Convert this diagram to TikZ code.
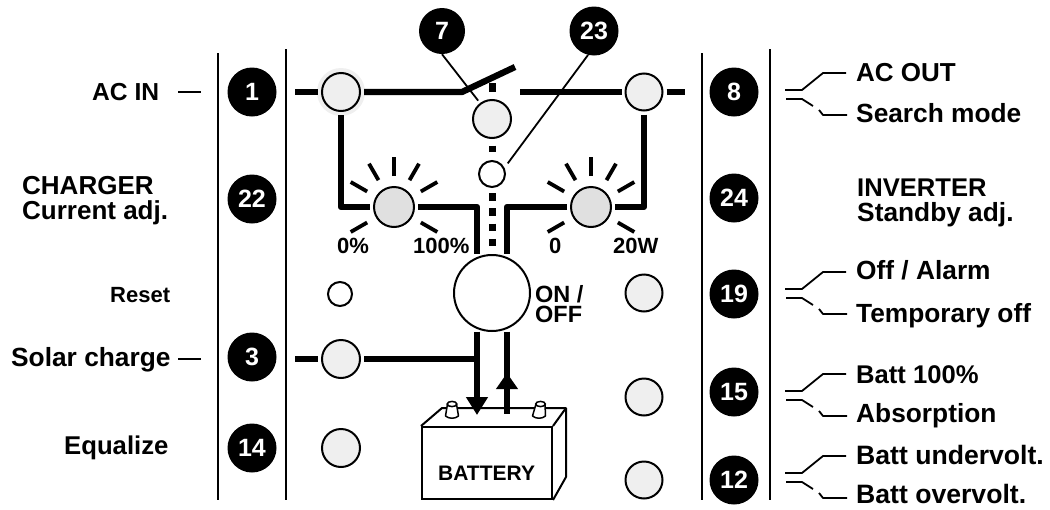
\documentclass[tikz,border=0pt]{standalone}
\usepackage{fontspec}
\setmainfont{Liberation Sans}
\usetikzlibrary{arrows.meta,calc}
\definecolor{lampgrey}{HTML}{EFEFEF}
\definecolor{dimgrey}{HTML}{E0E0E0}
\newcommand{\fsz}[1]{\fontsize{#1}{#1}\bfseries\selectfont}
\newcommand{\forkat}[1]{%
  \draw[thinline,line join=round] (785,#1) -- (802,#1) -- (823,#1-17) -- (846,#1-17);
  \draw[thinline] (786,#1+9) -- (802,#1+9) -- (813,#1+16);
  \draw[thinline,line join=round] (819,#1+20) -- (823,#1+25) -- (847,#1+25);
}
\tikzset{
  x=1pt,y=-1pt,
  wire/.style={line width=6.3pt,line join=round},
  thinline/.style={line width=1.8pt},
  divider/.style={line width=2pt},
  ray/.style={line width=3.8pt},
  dots/.style={line width=7pt},
  badge/.style={circle,fill=black,minimum size=#1,inner sep=0pt,text=white,font=\fsz{25}},
  badge/.default=49pt,
  lamp/.style={circle,draw=black,line width=2pt,fill=lampgrey,minimum size=38pt,inner sep=0pt,outer sep=4pt},
  dimmer/.style={lamp,fill=dimgrey,minimum size=40pt},
  blank/.style={lamp,fill=white,minimum size=#1},
  txt/.style={anchor=base west,inner sep=0pt,font=\fsz{26.3}},
  small/.style={txt,font=\fsz{22}}
}
\newcommand{\rays}[1]{%
  \foreach \a in {90,60,120,30,150,-30,210}
    \draw[ray] ($(#1)+(\a:31 and -31)$) -- ($(#1)+(\a:50 and -50)$);
}
\begin{document}
\begin{tikzpicture}
\useasboundingbox (0,0) rectangle (1050,509);

% dividers
\coordinate (d1a) at (218,53); \coordinate (d1b) at (218,500);
\coordinate (d2a) at (286,49); \coordinate (d2b) at (286,500);
\coordinate (d3a) at (702,53); \coordinate (d3b) at (702,500);
\coordinate (d4a) at (770,49); \coordinate (d4b) at (770,500);
\draw[divider] (d1a) -- (d1b);
\draw[divider] (d2a) -- (d2b);
\draw[divider] (d3a) -- (d3b);
\draw[divider] (d4a) -- (d4b);

% badges
\node[badge] (n1) at (252,92) {1};
\node[badge] (n22) at (252,199) {22};
\node[badge] (n3) at (252,357) {3};
\node[badge] (n14) at (252,448) {14};
\node[badge] (n8) at (734,92) {8};
\node[badge] (n24) at (734,198) {24};
\node[badge] (n19) at (734,294) {19};
\node[badge] (n15) at (734,392) {15};
\node[badge] (n12) at (734,480) {12};
\node[badge=46pt] (n7) at (442,31) {7};
\node[badge] (n23) at (594,31) {23};

% lamps
\fill[lampgrey] (341,92) circle (24);
\node[lamp] (acin) at (341,92) {};
\node[lamp] (cnt) at (492,119) {};
\node[lamp,minimum size=37pt] (acout) at (644,92) {};
\node[blank=26pt,outer sep=6pt] (led) at (492,174) {};
\node[dimmer] (dl) at (394,207) {};
\node[dimmer] (dr) at (591,207) {};
\node[blank=24pt] (reset) at (340,294) {};
\node[lamp] (solar) at (341,359) {};
\node[lamp] (equal) at (341,448) {};
\node[lamp,minimum size=37pt] (r19) at (644,293) {};
\node[lamp,minimum size=37pt] (r15) at (644,397) {};
\node[lamp,minimum size=37pt] (r12) at (644,480) {};

% rays
\rays{dl}
\rays{dr}

% named junctions
\coordinate (inl) at (295,92);
\coordinate (hinge) at (462,92);
\coordinate (swtip) at (515,67);
\coordinate (outa) at (520,92);
\coordinate (outb) at (685,92);
\coordinate (sll) at (295,359);
\coordinate (jl) at (341,207);
\coordinate (jr) at (644,207);
\coordinate (jm1) at (477,207);
\coordinate (jm2) at (507,207);
\coordinate (jsol) at (477,359);
\coordinate (tipdown) at (477,415);
\coordinate (uparrow) at (507,414);
\coordinate (uphead) at (507,389);
\coordinate (uptip) at (507,373);
\coordinate (dottop) at (492,83);

% wires
\draw[wire] (inl) -- (acin.west);
\draw[wire] (acin.east) -- (hinge) -- (swtip);
\draw[wire] (outa) -- (acout.west);
\draw[wire] (acout.east) -- (outb);
\draw[wire] (acin.south) -- (jl) -- (dl.west);
\draw[wire] (acout.south) -- (jr) -- (dr.east);

% ON/OFF
\node[lamp,fill=white,minimum size=76pt] (onoff) at (492,293) {};
\draw[wire] (dl.east) -- (jm1) -- (jm1 |- onoff.113);
\draw[wire] (dr.west) -- (jm2) -- (jm2 |- onoff.67);
\draw[wire] (sll) -- (solar.west);
\draw[wire] (solar.east) -- (jsol);

% dotted link
\draw[dots] (dottop) -- ([yshift=4.5pt]cnt.north);
\draw[dots,shorten <=3.5pt,shorten >=3.5pt] (cnt.south) -- (led.north);
\draw[dots,dash pattern=on 7.5pt off 7.8pt] (led.south) -- ([yshift=-4pt]onoff.north);

% battery
\node[draw=black,line width=2pt,minimum width=130pt,minimum height=72pt,inner sep=0pt] (batt) at (487,463) {};
\coordinate (bb1) at (442,408);
\coordinate (bb2) at (566,408);
\coordinate (bb3) at (566,477);
\draw[line width=2pt,line join=round] (batt.north west) -- (bb1) -- (bb2) -- (bb3) -- (batt.south east);
\draw[line width=2pt] (batt.north east) -- (bb2);
\foreach \tx/\sl in {452/0,539/1.5}{
  \draw[line width=1.5pt,fill=white,line join=round]
    (\tx-6.5,416) .. controls (\tx-3,419) and (\tx+3,419) .. (\tx+6.5,416)
    -- (\tx+4.5+\sl,404) -- (\tx-4.5+\sl,404) -- cycle;
  \draw[line width=1.5pt,fill=white] (\tx+\sl,404) ellipse (4.8 and 2.6);
}
\node[txt,font=\fsz{21}] (battlabel) at (438,480) {BATTERY};

% arrows to battery
\draw[wire,-{Triangle[width=21pt,length=18pt]}] (jsol |- onoff.247) -- (tipdown);
\draw[wire] (jm2 |- onoff.293) -- (uparrow);
\draw[wire,-{Triangle[width=21pt,length=16pt]}] (uphead) -- (uptip);

% pointers
\draw[thinline] (n7.south) -- (cnt.127);
\draw[thinline] (n23.256) -- (led.34);

% left texts
\coordinate (dash1a) at (178,92); \coordinate (dash1b) at (201,92);
\coordinate (dash2a) at (178,359); \coordinate (dash2b) at (201,359);
\draw[thinline] (dash1a) -- (dash1b);
\draw[thinline] (dash2a) -- (dash2b);
\node[txt,font=\fsz{24.6}] (t1) at (92,100) {AC IN};
\node[txt,font=\fsz{26}] (t2) at (22,194) {CHARGER};
\node[txt,font=\fsz{26}] (t3) at (22,219) {Current adj.};
\node[small] (t4) at (110,302) {Reset};
\node[txt] (t5) at (11,366) {Solar charge};
\node[txt,font=\fsz{25.7}] (t6) at (64,454) {Equalize};

% scale labels
\node[small] (s1) at (337,253) {0\%};
\node[small] (s2) at (413,253) {100\%};
\node[small] (s3) at (549,253) {0};
\node[small] (s4) at (613,253) {20W};
\node[txt,font=\fsz{23.5}] (on) at (535,302) {ON /};
\node[txt,font=\fsz{23.5}] (off) at (535,322) {OFF};

% right texts
\forkat{90}
\forkat{289}
\forkat{391}
\forkat{473}
\node[txt,font=\fsz{26}] (r1) at (856,81) {AC OUT};
\node[txt] (r2) at (856,122) {Search mode};
\node[txt,font=\fsz{25.6}] (r3) at (857,196) {INVERTER};
\node[txt] (r4) at (857,221) {Standby adj.};
\node[txt] (r5) at (856,279) {Off / Alarm};
\node[txt] (r6) at (856,322) {Temporary off};
\node[txt,font=\fsz{25.6}] (r7) at (856,383) {Batt 100\%};
\node[txt] (r8) at (856,422) {Absorption};
\node[txt,font=\fsz{26.6}] (r9) at (856,464) {Batt undervolt.};
\node[txt,font=\fsz{26.6}] (r10) at (856,503) {Batt overvolt.};
\end{tikzpicture}
\end{document}
